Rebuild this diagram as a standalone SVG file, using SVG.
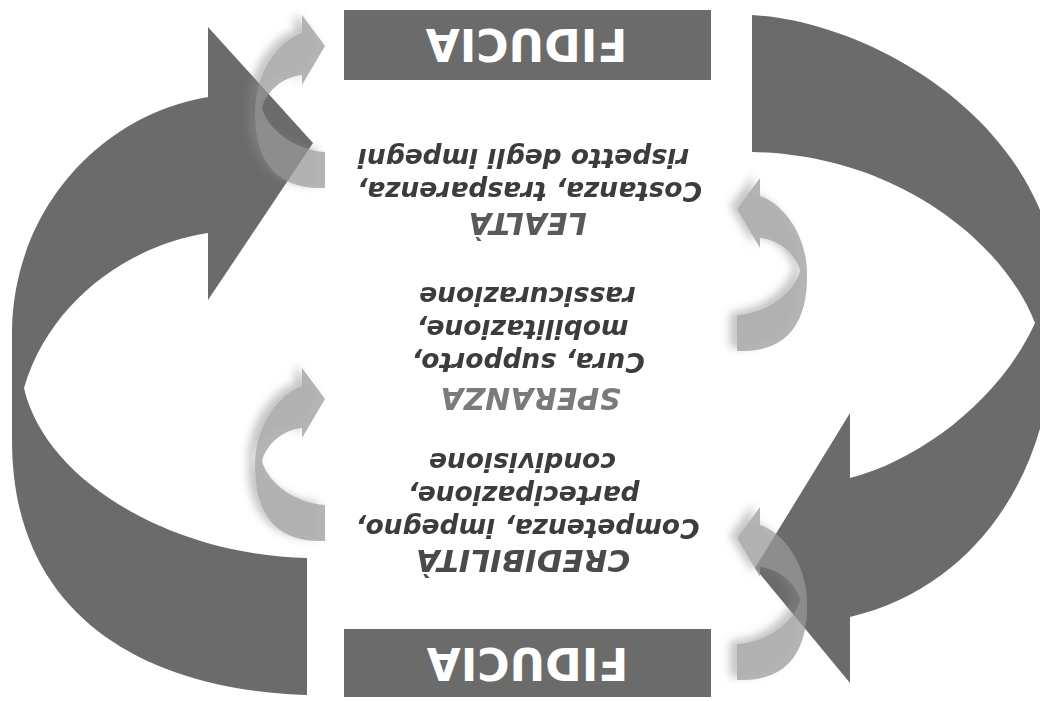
<svg xmlns="http://www.w3.org/2000/svg" xmlns:xlink="http://www.w3.org/1999/xlink" width="1040" height="701" viewBox="0 0 1040 701">
<defs>
<style>
.big{fill:#6b6b6b}
.box{fill:#6b6b6b}
.small{fill:#989898;fill-opacity:0.72}
.fid{font-family:"DejaVu Sans","Verdana",sans-serif;font-weight:bold;font-size:44px;fill:#ffffff;text-anchor:middle}
.ttl{font-family:"DejaVu Sans","Verdana",sans-serif;font-weight:bold;font-style:italic;font-size:30px;text-anchor:middle}
.txt{font-family:"DejaVu Sans","Verdana",sans-serif;font-weight:bold;font-style:italic;font-size:26.5px;fill:#3c3c3c;text-anchor:middle}
</style>
<filter id="sh" x="-30%" y="-20%" width="160%" height="140%">
<feGaussianBlur in="SourceAlpha" stdDeviation="4" result="b"/>
<feOffset in="b" dx="-7" dy="-3" result="o"/>
<feFlood flood-color="#8c8c8c" flood-opacity="0.7"/>
<feComposite in2="o" operator="in" result="s"/>
<feComposite in="s" in2="SourceAlpha" operator="out" result="s2"/>
<feMerge><feMergeNode in="s2"/><feMergeNode in="SourceGraphic"/></feMerge>
</filter>
<path id="curl" d="M325,46 L302,15 L302,33 C280,40 256,70 255,110 C254,160 275,190 325,188 L325,152 C295,150 268,130 262,108 C266,92 282,77 302,75 L302,85 Z"/>
</defs>
<rect width="1040" height="701" fill="#ffffff"/>
<g id="connectors">
<path id="arrow-left" class="big" d="M307,695 C150,690 12,620 12,440 L12,330 C14,210 100,115 208,97 L208,27 L313,143 L208,300 L208,233 C130,245 50,300 24,388 C45,480 170,555 307,558 Z"/>
<path id="arrow-right" class="big" d="M752,15 C850,20 990,90 1040,210 L1052,260 L1052,350 C1050,460 985,585 850,617 L850,683 L755,568 L850,413 L850,478 C920,460 1000,400 1035,323 C1005,245 900,155 752,152 Z"/>
<g id="curls" filter="url(#sh)">
<use id="curl-left-top" class="small" xlink:href="#curl"/>
<use id="curl-left-bottom" class="small" xlink:href="#curl" transform="translate(0,353)"/>
<use id="curl-right-top" class="small" xlink:href="#curl" transform="matrix(-1,0,0,1,1062,163)"/>
<use id="curl-right-bottom" class="small" xlink:href="#curl" transform="matrix(-1,0,0,1,1062,492)"/>
</g>
</g>
<g id="fiducia-top">
<rect class="box" x="344" y="10" width="367" height="70"/>
<text class="fid" x="526.5" y="29" transform="rotate(180 526.5 29)">FIDUCIA</text>
</g>
<g id="fiducia-bottom">
<rect class="box" x="344" y="629" width="367" height="68"/>
<text class="fid" x="527.5" y="648" transform="rotate(180 527.5 648)">FIDUCIA</text>
</g>
<g id="lealta">
<text class="ttl" fill="#5a5a5a" x="527.5" y="213" transform="rotate(180 527.5 213)">LEALTÀ</text>
<text class="txt" x="529.5" y="182" transform="rotate(180 529.5 182)">Costanza, trasparenza,</text>
<text class="txt" x="523.5" y="149" transform="rotate(180 523.5 149)">rispetto degli impegni</text>
</g>
<g id="speranza">
<text class="ttl" fill="#7a7a7a" x="530.5" y="388" transform="rotate(180 530.5 388)">SPERANZA</text>
<text class="txt" x="528" y="353" transform="rotate(180 528 353)">Cura, supporto,</text>
<text class="txt" x="522.5" y="320" transform="rotate(180 522.5 320)">mobilitazione,</text>
<text class="txt" x="527.5" y="287" transform="rotate(180 527.5 287)">rassicurazione</text>
</g>
<g id="credibilita">
<text class="ttl" fill="#4a4a4a" style="font-size:31px" x="523" y="550" transform="rotate(180 523 550)">CREDIBILITÀ</text>
<text class="txt" x="527.5" y="519" transform="rotate(180 527.5 519)">Competenza, impegno,</text>
<text class="txt" x="523.5" y="486" transform="rotate(180 523.5 486)">partecipazione,</text>
<text class="txt" x="522.5" y="453" transform="rotate(180 522.5 453)">condivisione</text>
</g>
</svg>
